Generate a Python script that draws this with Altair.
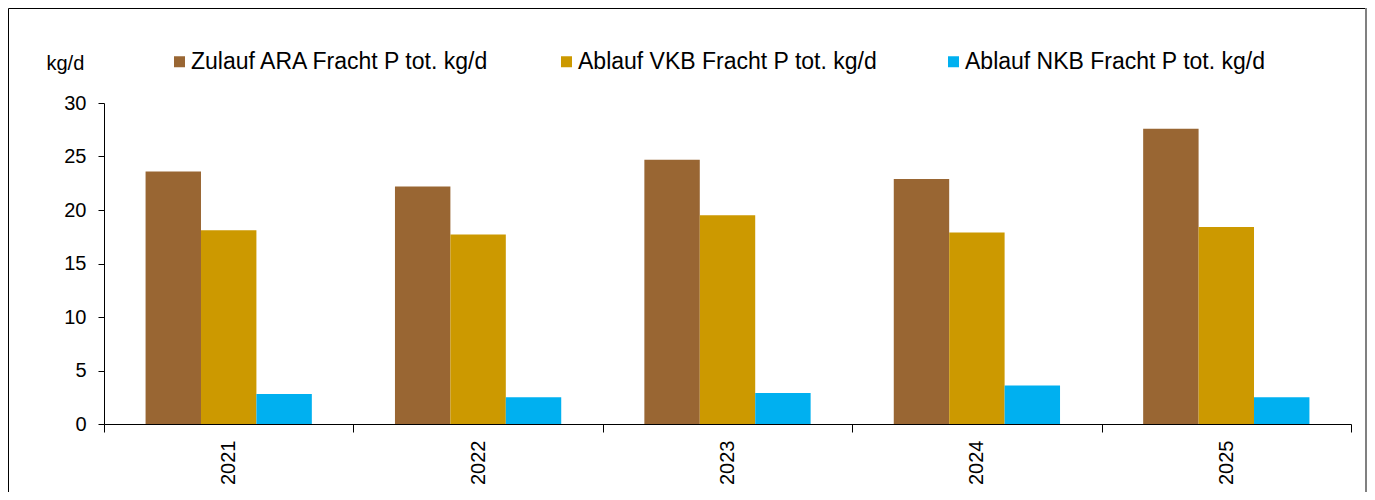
import altair as alt
import pandas as pd

years = ["2021", "2022", "2023", "2024", "2025"]
series_names = [
    "Zulauf ARA Fracht P tot. kg/d",
    "Ablauf VKB Fracht P tot. kg/d",
    "Ablauf NKB Fracht P tot. kg/d",
]
zulauf_ara = [23.6, 22.2, 24.7, 22.9, 27.6]
ablauf_vkb = [18.1, 17.7, 19.5, 17.9, 18.4]
ablauf_nkb = [2.8, 2.5, 2.9, 3.6, 2.5]
colors = ["#996633", "#CC9900", "#00B0F0"]
y_ticks = [0, 5, 10, 15, 20, 25, 30]

rows = []
for name, vals in zip(series_names, [zulauf_ara, ablauf_vkb, ablauf_nkb]):
    for y, v in zip(years, vals):
        rows.append({"year": y, "series": name, "value": v})
df = pd.DataFrame(rows)

FONT = "Liberation Sans"
W, H = 1247, 321

bars = alt.Chart(df).mark_bar().encode(
    x=alt.X(
        "year:N",
        sort=years,
        scale=alt.Scale(paddingInner=0, paddingOuter=0),
        axis=alt.Axis(
            title=None,
            labelAngle=270,
            tickBand="extent",
            tickSize=8,
            labelPadding=8,
            labelFont=FONT,
            labelFontSize=20,
            labelColor="black",
            domainColor="black",
            tickColor="black",
            domainWidth=1,
        ),
    ),
    xOffset=alt.XOffset(
        "series:N",
        sort=series_names,
        scale=alt.Scale(paddingInner=0, paddingOuter=0.75),
    ),
    y=alt.Y(
        "value:Q",
        scale=alt.Scale(domain=[0, 30], nice=False),
        axis=alt.Axis(
            values=y_ticks,
            grid=False,
            title="kg/d",
            titleAngle=0,
            titleX=-58,
            titleY=-34,
            titleAlign="left",
            titleBaseline="alphabetic",
            titleFont=FONT,
            titleFontSize=20,
            titleFontWeight="normal",
            titleColor="black",
            labelFont=FONT,
            labelFontSize=20,
            labelColor="black",
            labelPadding=12,
            tickSize=6,
            domainColor="black",
            tickColor="black",
        ),
    ),
    color=alt.Color(
        "series:N",
        sort=series_names,
        scale=alt.Scale(domain=series_names, range=colors),
        legend=alt.Legend(
            title=None,
            orient="none",
            legendX=64,
            legendY=-53,
            direction="horizontal",
            columns=3,
            gridAlign="all",
            columnPadding=63,
            symbolType="square",
            symbolSize=121,
            symbolStrokeWidth=0,
            labelOffset=0,
            labelLimit=0,
            labelFont=FONT,
            labelFontSize=23,
            labelColor="black",
            padding=0,
        ),
    ),
)

frame = alt.Chart(alt.Data(values=[{}])).mark_rect(
    fillOpacity=0, stroke="black", strokeWidth=1
).encode(
    x=alt.value(-95.5),
    x2=alt.value(1262),
    y=alt.value(-94.5),
    y2=alt.value(H + 120),
)

right_edge = alt.Chart(alt.Data(values=[{}])).mark_rule(
    color="#808080", strokeWidth=2
).encode(
    x=alt.value(1262),
    y=alt.value(-95),
    y2=alt.value(H + 120),
)

chart = alt.layer(bars, frame, right_edge).properties(
    width=W,
    height=H,
    autosize=alt.AutoSizeParams(type="none"),
    padding={"left": 96, "top": 95, "right": 16, "bottom": 68},
    background="white",
).configure_view(stroke=None)

chart.save("out.html", embed_options={"renderer": "svg", "actions": False})
